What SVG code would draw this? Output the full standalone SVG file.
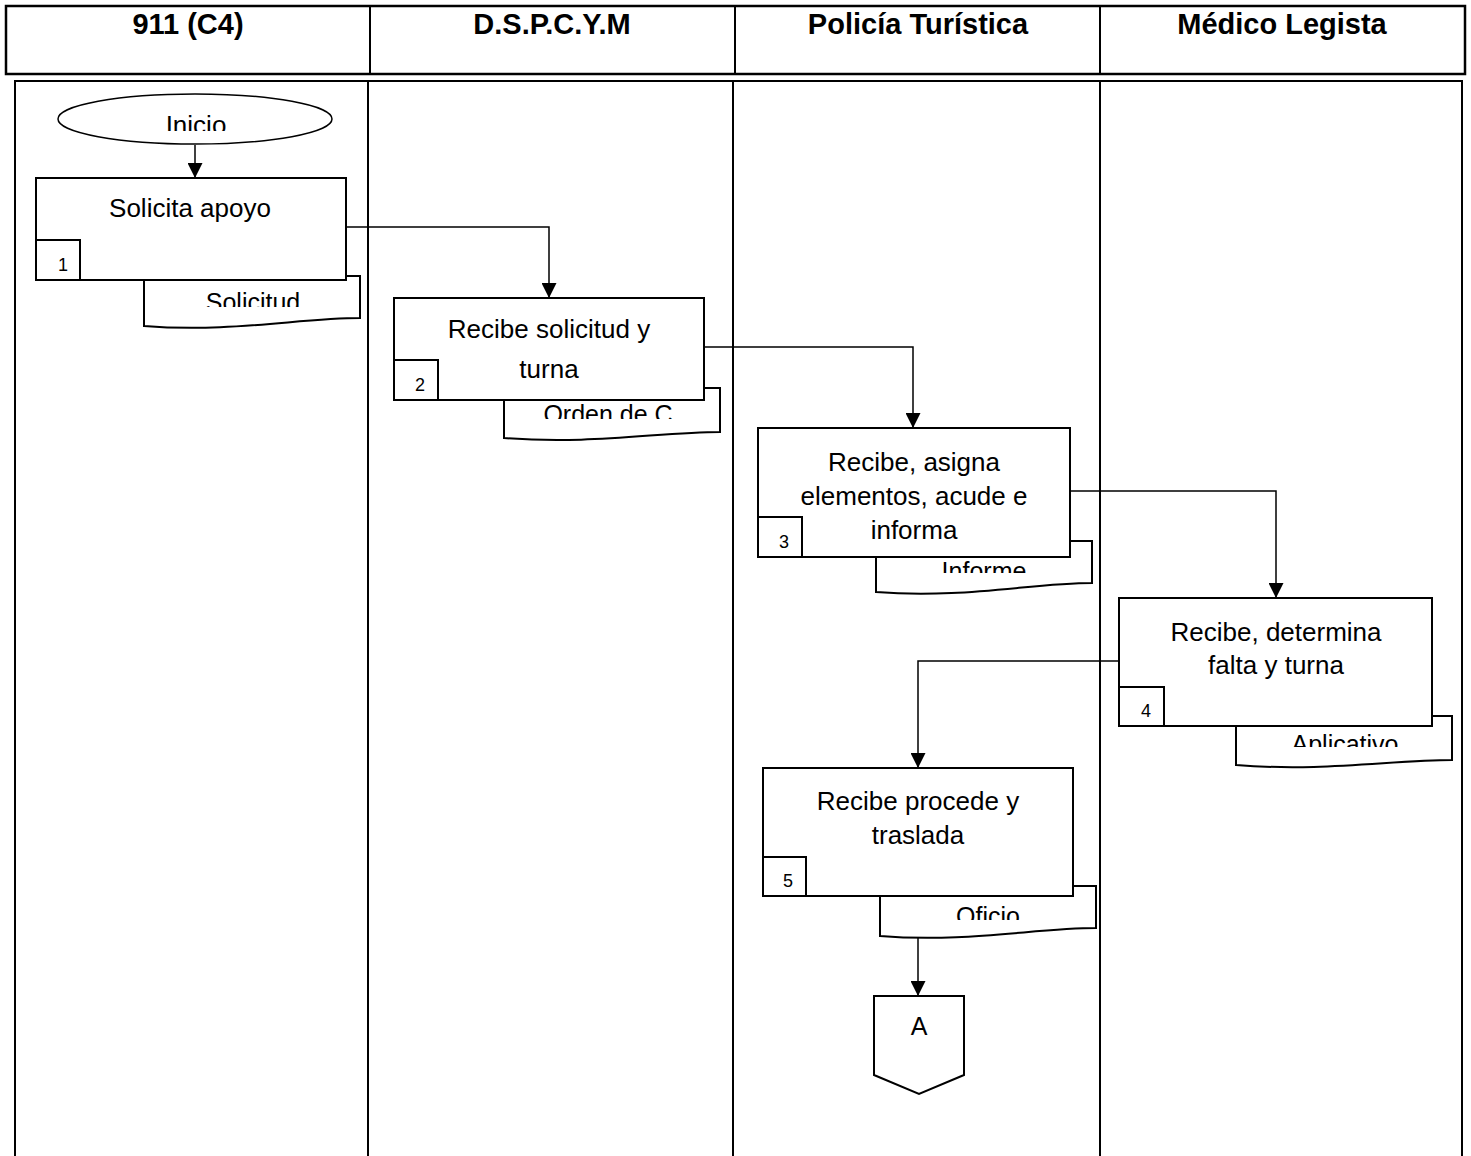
<svg xmlns="http://www.w3.org/2000/svg" width="1471" height="1156" viewBox="0 0 1471 1156">
<style>
.hdr{font-family:"Liberation Sans",Arial,sans-serif;font-weight:bold;font-size:29px;text-anchor:middle;fill:#000}
.lane{stroke:#000;stroke-width:2;fill:none}
.box{fill:#fff;stroke:#000;stroke-width:2}
.doc{fill:#fff;stroke:#000;stroke-width:2}
.txt{font-family:"Liberation Sans",Arial,sans-serif;font-size:26px;text-anchor:middle;fill:#000}
.dtxt{font-family:"Liberation Sans",Arial,sans-serif;font-size:25px;text-anchor:middle;fill:#000}
.num{font-family:"Liberation Sans",Arial,sans-serif;font-size:18px;fill:#000}
.conn{stroke:#000;stroke-width:1.5;fill:none}
</style>
<defs>
<marker id="ah" markerWidth="15" markerHeight="15" refX="15" refY="7.5" orient="auto" markerUnits="userSpaceOnUse">
<path d="M0,0 L15,7.5 L0,15 z" fill="#000"/>
</marker>
<clipPath id="c0"><rect x="60" y="95" width="270" height="36"/></clipPath>
<clipPath id="c1"><rect x="145" y="280" width="214" height="27"/></clipPath>
<clipPath id="c2"><rect x="505" y="392" width="214" height="27"/></clipPath>
<clipPath id="c3"><rect x="877" y="545" width="214" height="28"/></clipPath>
<clipPath id="c4"><rect x="1237" y="720" width="214" height="27"/></clipPath>
<clipPath id="c5"><rect x="881" y="890" width="214" height="30"/></clipPath>
</defs>
<rect width="1471" height="1156" fill="#fff"/>

<g id="header">
<rect x="6" y="6" width="1459" height="68" fill="none" stroke="#000" stroke-width="2.5"/>
<line x1="370" y1="6" x2="370" y2="74" stroke="#000" stroke-width="2"/>
<line x1="735" y1="6" x2="735" y2="74" stroke="#000" stroke-width="2"/>
<line x1="1100" y1="6" x2="1100" y2="74" stroke="#000" stroke-width="2"/>
<text class="hdr" x="188" y="34">911 (C4)</text>
<text class="hdr" x="552" y="34">D.S.P.C.Y.M</text>
<text class="hdr" x="918" y="34">Policía Turística</text>
<text class="hdr" x="1282" y="34">Médico Legista</text>
</g>

<g id="lanes">
<path class="lane" d="M15,1156 V81 H1462 V1156"/>
<line class="lane" x1="368" y1="81" x2="368" y2="1156"/>
<line class="lane" x1="733" y1="81" x2="733" y2="1156"/>
<line class="lane" x1="1100" y1="81" x2="1100" y2="1156"/>
</g>

<g id="connectors">
<line class="conn" x1="195" y1="145" x2="195" y2="178" marker-end="url(#ah)"/>
<polyline class="conn" points="346,227 549,227 549,298" marker-end="url(#ah)"/>
<polyline class="conn" points="704,347 913,347 913,428" marker-end="url(#ah)"/>
<polyline class="conn" points="1070,491 1276,491 1276,598" marker-end="url(#ah)"/>
<polyline class="conn" points="1119,661 918,661 918,768" marker-end="url(#ah)"/>
<line class="conn" x1="918" y1="938" x2="918" y2="996" marker-end="url(#ah)"/>
</g>

<g id="inicio">
<ellipse cx="195" cy="119" rx="137" ry="25" fill="#fff" stroke="#000" stroke-width="1.5"/>
<text class="txt" x="196" y="134" clip-path="url(#c0)">Inicio</text>
</g>

<g id="doc1">
<path class="doc" d="M144,326 V276 H360 V318 C300,318 230,333 144,326 Z"/>
<text class="dtxt" x="253" y="311" clip-path="url(#c1)">Solicitud</text>
</g>
<g id="step1">
<rect class="box" x="36" y="178" width="310" height="102"/>
<text class="txt" x="190" y="217">Solicita apoyo</text>
<rect class="box" x="36" y="240" width="44" height="40"/>
<text class="num" x="58" y="271">1</text>
</g>

<g id="doc2">
<path class="doc" d="M504,438 V388 H720 V432 C660,432 590,445 504,438 Z"/>
<text class="dtxt" x="608" y="423" clip-path="url(#c2)">Orden de C</text>
</g>
<g id="step2">
<rect class="box" x="394" y="298" width="310" height="102"/>
<text class="txt" x="549" y="338">Recibe solicitud y</text>
<text class="txt" x="549" y="378">turna</text>
<rect class="box" x="394" y="360" width="44" height="40"/>
<text class="num" x="415" y="391">2</text>
</g>

<g id="doc3">
<path class="doc" d="M876,592 V541 H1092 V583 C1032,583 962,599 876,592 Z"/>
<text class="dtxt" x="984" y="580" clip-path="url(#c3)">Informe</text>
</g>
<g id="step3">
<rect class="box" x="758" y="428" width="312" height="129"/>
<text class="txt" x="914" y="471">Recibe, asigna</text>
<text class="txt" x="914" y="505">elementos, acude e</text>
<text class="txt" x="914" y="539">informa</text>
<rect class="box" x="758" y="517" width="44" height="40"/>
<text class="num" x="779" y="548">3</text>
</g>

<g id="doc4">
<path class="doc" d="M1236,765 V716 H1452 V760 C1392,760 1322,772 1236,765 Z"/>
<text class="dtxt" x="1345" y="753" clip-path="url(#c4)">Aplicativo</text>
</g>
<g id="step4">
<rect class="box" x="1119" y="598" width="313" height="128"/>
<text class="txt" x="1276" y="641">Recibe, determina</text>
<text class="txt" x="1276" y="674">falta y turna</text>
<rect class="box" x="1119" y="687" width="45" height="39"/>
<text class="num" x="1141" y="717">4</text>
</g>

<g id="doc5">
<path class="doc" d="M880,936 V886 H1096 V928 C1036,928 966,943 880,936 Z"/>
<text class="dtxt" x="988" y="925" clip-path="url(#c5)">Oficio</text>
</g>
<g id="step5">
<rect class="box" x="763" y="768" width="310" height="128"/>
<text class="txt" x="918" y="810">Recibe procede y</text>
<text class="txt" x="918" y="844">traslada</text>
<rect class="box" x="763" y="857" width="43" height="39"/>
<text class="num" x="783" y="887">5</text>
</g>

<g id="connectorA">
<path class="box" d="M874,996 H964 V1075 L919,1094 L874,1075 Z"/>
<text class="dtxt" x="919" y="1035">A</text>
</g>
</svg>
